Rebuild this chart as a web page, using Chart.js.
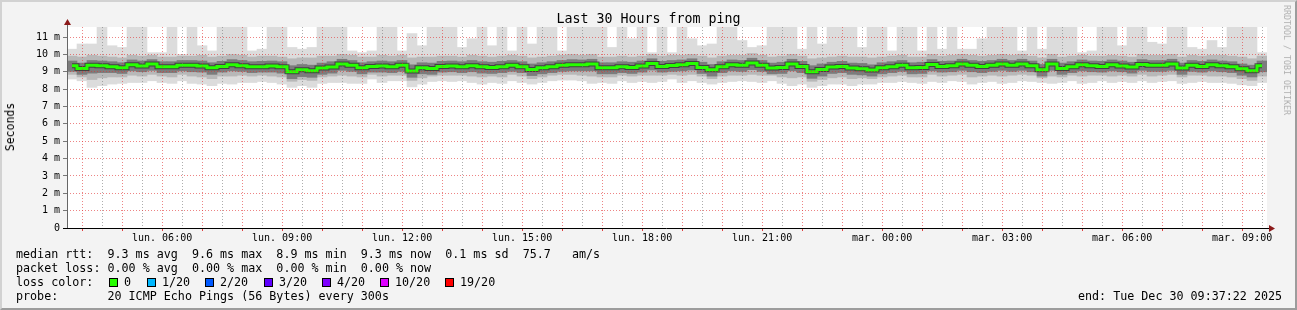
<!DOCTYPE html>
<html>
<head>
<meta charset="utf-8">
<title>Last 30 Hours from ping</title>
<script src="https://cdn.jsdelivr.net/npm/chart.js@4.4.1/dist/chart.umd.min.js"></script>
<style>
    html, body { margin: 0; padding: 0; background: #f3f3f3; }
    #wrap { position: relative; width: 1297px; height: 310px; overflow: hidden;
            font-family: "DejaVu Sans Mono", monospace; color: #000; }
    #wrap canvas { position: absolute; left: 0; top: 0; }
    .frame { position: absolute; left: 0; top: 0; width: 1297px; height: 310px; box-sizing: border-box;
             border-top: 2px solid #d2d2d2; border-left: 2px solid #d2d2d2;
             border-right: 2px solid #9c9c9c; border-bottom: 2px solid #9c9c9c; pointer-events: none; }
    .txt { position: absolute; white-space: pre; font-size: 11.7px; line-height: 14px; }
    .title { position: absolute; left: 0; top: 11px; width: 1297px; text-align: center;
             font-size: 13.3px; line-height: 16px; white-space: pre; }
    .ylab { position: absolute; left: 10px; top: 127px; font-size: 11.5px; white-space: pre;
            transform: translate(-50%, -50%) rotate(-90deg); }
    .brand { position: absolute; left: 1287px; top: 60px; font-size: 8.3px; color: #b0b0b0; white-space: pre;
             transform: translate(-50%, -50%) rotate(90deg); }
    .box { position: absolute; top: 278px; width: 7px; height: 7px; border: 1px solid #000; }
</style>
</head>
<body>
<div id="wrap">
    <canvas id="pingChart" width="1297" height="310"></canvas>
    <div class="title">Last 30 Hours from ping</div>
    <div class="ylab">Seconds</div>
    <div class="brand">RRDTOOL / TOBI OETIKER</div>
    <div id="legend"></div>
    <div class="frame"></div>
</div>
<script>
// 15 minute bins, start Mon 03:37:22, values in ms
const startClock = 3 + 37 / 60 + 22 / 3600;
const binHours = 0.25;

const median = [
    9.35, 9.19, 9.37, 9.35, 9.29, 9.23, 9.40, 9.33, 9.44, 9.29,
    9.29, 9.38, 9.37, 9.33, 9.23, 9.31, 9.40, 9.35, 9.29, 9.29,
    9.33, 9.29, 9.00, 9.12, 9.06, 9.21, 9.27, 9.44, 9.38, 9.23,
    9.30, 9.33, 9.29, 9.37, 9.04, 9.23, 9.19, 9.31, 9.33, 9.29,
    9.35, 9.29, 9.25, 9.29, 9.37, 9.29, 9.13, 9.23, 9.29, 9.37,
    9.40, 9.40, 9.44, 9.23, 9.23, 9.29, 9.25, 9.33, 9.48, 9.31,
    9.36, 9.40, 9.48, 9.25, 9.12, 9.29, 9.40, 9.37, 9.50, 9.38,
    9.21, 9.25, 9.44, 9.31, 9.00, 9.13, 9.27, 9.31, 9.21, 9.17,
    9.10, 9.23, 9.29, 9.37, 9.23, 9.25, 9.42, 9.31, 9.35, 9.44,
    9.38, 9.31, 9.38, 9.44, 9.38, 9.44, 9.35, 9.12, 9.44, 9.19,
    9.29, 9.40, 9.35, 9.31, 9.40, 9.33, 9.27, 9.42, 9.37, 9.37,
    9.44, 9.21, 9.37, 9.31, 9.40, 9.35, 9.29, 9.17, 9.06, 9.35
];

// slowest ping per bin (11.6 = off the top of the graph)
const maxPing = [
    10.3, 10.6, 10.6, 11.6, 10.5, 10.4, 11.6, 11.6, 10.1, 10.1,
    11.6, 10.0, 11.6, 10.5, 10.2, 11.6, 11.6, 11.6, 10.2, 10.3,
    11.6, 11.6, 10.4, 10.3, 10.4, 11.6, 11.6, 11.6, 10.2, 10.1,
    10.2, 11.6, 11.6, 10.2, 11.2, 10.5, 11.6, 11.6, 11.6, 10.4,
    10.9, 11.6, 10.5, 11.6, 10.2, 11.6, 10.6, 11.6, 11.6, 10.2,
    11.6, 11.6, 11.6, 11.6, 10.4, 11.6, 10.9, 11.6, 10.1, 11.6,
    10.1, 11.6, 10.9, 10.5, 10.6, 11.6, 11.6, 10.8, 10.4, 10.5,
    11.6, 11.6, 11.6, 10.3, 11.6, 10.6, 11.6, 11.6, 11.6, 10.4,
    11.6, 11.6, 10.2, 11.6, 11.6, 10.2, 11.6, 10.3, 11.6, 10.3,
    10.3, 10.9, 11.6, 11.6, 11.6, 10.2, 11.6, 10.3, 11.6, 11.6,
    11.6, 10.1, 10.2, 11.6, 11.6, 10.5, 11.6, 11.6, 10.7, 10.6,
    11.6, 11.6, 10.4, 10.3, 10.8, 10.4, 11.6, 11.6, 11.6, 10.1
];

// fastest ping per bin
const minPing = [
    8.58, 8.48, 8.10, 8.20, 8.29, 8.33, 8.38, 8.38, 8.48, 8.38,
    8.33, 8.48, 8.33, 8.29, 8.20, 8.33, 8.29, 8.38, 8.38, 8.44,
    8.38, 8.29, 8.10, 8.20, 8.10, 8.33, 8.38, 8.38, 8.33, 8.33,
    8.58, 8.38, 8.48, 8.48, 8.13, 8.29, 8.44, 8.48, 8.44, 8.48,
    8.38, 8.29, 8.38, 8.33, 8.48, 8.38, 8.29, 8.38, 8.48, 8.52,
    8.52, 8.48, 8.33, 8.38, 8.33, 8.48, 8.38, 8.44, 8.38, 8.44,
    8.58, 8.38, 8.48, 8.38, 8.29, 8.38, 8.44, 8.48, 8.44, 8.38,
    8.48, 8.33, 8.20, 8.29, 8.10, 8.20, 8.29, 8.29, 8.20, 8.29,
    8.29, 8.38, 8.38, 8.44, 8.38, 8.33, 8.44, 8.38, 8.48, 8.44,
    8.29, 8.38, 8.44, 8.33, 8.38, 8.48, 8.44, 8.38, 8.33, 8.38,
    8.48, 8.33, 8.38, 8.48, 8.38, 8.44, 8.38, 8.48, 8.38, 8.44,
    8.48, 8.33, 8.38, 8.44, 8.38, 8.38, 8.33, 8.25, 8.20, 8.38
];

// outer smoke (most pings)
const outerHigh = [
    9.90, 9.85, 9.95, 9.90, 9.85, 9.80, 9.95, 9.90, 9.95, 9.85,
    9.85, 9.90, 9.90, 9.95, 9.85, 9.90, 10.00, 9.95, 9.85, 9.90,
    9.90, 9.85, 9.75, 9.80, 9.80, 9.90, 9.90, 10.00, 9.95, 9.85,
    9.85, 9.95, 9.90, 9.95, 9.80, 9.85, 9.85, 9.90, 9.90, 9.85,
    9.95, 9.90, 9.85, 9.90, 9.95, 9.90, 9.80, 9.85, 9.90, 9.95,
    10.00, 9.95, 10.00, 9.85, 9.85, 9.90, 9.85, 9.90, 10.00, 9.90,
    9.95, 9.95, 10.00, 9.90, 9.80, 9.90, 9.95, 9.95, 10.05, 9.95,
    9.85, 9.90, 10.00, 9.90, 9.75, 9.80, 9.85, 9.90, 9.85, 9.85,
    9.80, 9.85, 9.90, 9.95, 9.85, 9.85, 10.00, 9.90, 9.95, 10.00,
    9.95, 9.90, 9.95, 10.00, 9.95, 10.00, 9.90, 9.80, 10.00, 9.85,
    9.90, 9.95, 9.90, 9.90, 9.95, 9.90, 9.85, 10.00, 9.95, 9.95,
    10.00, 9.85, 9.95, 9.90, 9.95, 9.95, 9.90, 9.85, 9.75, 9.90
];
const outerLow = [
    8.85, 8.70, 8.55, 8.65, 8.70, 8.70, 8.80, 8.75, 8.85, 8.75,
    8.70, 8.85, 8.75, 8.70, 8.60, 8.75, 8.75, 8.80, 8.75, 8.80,
    8.75, 8.70, 8.45, 8.55, 8.50, 8.70, 8.75, 8.80, 8.75, 8.70,
    8.85, 8.75, 8.80, 8.80, 8.50, 8.65, 8.75, 8.80, 8.80, 8.80,
    8.75, 8.70, 8.75, 8.70, 8.85, 8.75, 8.60, 8.70, 8.80, 8.85,
    8.85, 8.80, 8.75, 8.70, 8.70, 8.80, 8.75, 8.80, 8.80, 8.80,
    8.85, 8.80, 8.85, 8.75, 8.60, 8.75, 8.80, 8.80, 8.85, 8.80,
    8.80, 8.70, 8.65, 8.70, 8.45, 8.55, 8.65, 8.70, 8.60, 8.65,
    8.60, 8.70, 8.75, 8.80, 8.70, 8.70, 8.85, 8.75, 8.80, 8.85,
    8.70, 8.75, 8.80, 8.75, 8.80, 8.85, 8.80, 8.65, 8.75, 8.70,
    8.80, 8.75, 8.80, 8.80, 8.75, 8.80, 8.75, 8.85, 8.75, 8.80,
    8.85, 8.70, 8.80, 8.80, 8.75, 8.75, 8.70, 8.60, 8.50, 8.75
];

// inner smoke (pings nearest the median)
const innerHigh = [
    9.62, 9.50, 9.65, 9.62, 9.58, 9.52, 9.68, 9.62, 9.70, 9.58,
    9.58, 9.65, 9.65, 9.62, 9.52, 9.60, 9.70, 9.65, 9.58, 9.60,
    9.62, 9.58, 9.35, 9.42, 9.38, 9.50, 9.58, 9.72, 9.65, 9.52,
    9.58, 9.62, 9.58, 9.65, 9.40, 9.52, 9.50, 9.60, 9.62, 9.58,
    9.65, 9.58, 9.55, 9.60, 9.65, 9.58, 9.45, 9.52, 9.58, 9.65,
    9.70, 9.68, 9.72, 9.52, 9.52, 9.58, 9.55, 9.62, 9.75, 9.60,
    9.65, 9.68, 9.75, 9.55, 9.42, 9.58, 9.68, 9.65, 9.78, 9.65,
    9.50, 9.55, 9.72, 9.60, 9.35, 9.45, 9.55, 9.60, 9.50, 9.48,
    9.40, 9.52, 9.58, 9.65, 9.52, 9.55, 9.70, 9.60, 9.62, 9.72,
    9.65, 9.60, 9.65, 9.72, 9.65, 9.72, 9.62, 9.42, 9.72, 9.50,
    9.58, 9.68, 9.62, 9.60, 9.68, 9.62, 9.55, 9.70, 9.65, 9.65,
    9.72, 9.50, 9.65, 9.60, 9.68, 9.62, 9.58, 9.45, 9.38, 9.62
];
const innerLow = [
    9.02, 8.85, 8.92, 8.95, 8.95, 8.90, 9.05, 9.00, 9.08, 8.95,
    8.95, 9.05, 9.00, 8.98, 8.85, 8.98, 9.05, 9.02, 8.95, 8.98,
    8.98, 8.92, 8.60, 8.72, 8.68, 8.85, 8.92, 9.08, 9.02, 8.88,
    8.98, 8.98, 8.95, 9.02, 8.68, 8.88, 8.85, 8.98, 9.00, 8.95,
    9.00, 8.92, 8.90, 8.95, 9.02, 8.95, 8.78, 8.88, 8.95, 9.02,
    9.05, 9.05, 9.05, 8.88, 8.88, 8.95, 8.90, 8.98, 9.10, 8.98,
    9.02, 9.05, 9.10, 8.90, 8.75, 8.95, 9.05, 9.02, 9.12, 9.02,
    8.88, 8.90, 9.05, 8.95, 8.62, 8.75, 8.90, 8.95, 8.85, 8.82,
    8.75, 8.88, 8.95, 9.02, 8.88, 8.90, 9.05, 8.98, 9.00, 9.08,
    9.00, 8.95, 9.02, 9.08, 9.02, 9.08, 9.00, 8.75, 9.08, 8.85,
    8.95, 9.05, 9.00, 8.98, 9.05, 9.00, 8.92, 9.08, 9.02, 9.02,
    9.08, 8.85, 9.02, 8.98, 9.05, 9.00, 8.95, 8.80, 8.70, 9.00
];

const yLabels = ['0', '1 m', '2 m', '3 m', '4 m', '5 m', '6 m', '7 m', '8 m', '9 m', '10 m', '11 m'];
const xLabels = ['lun. 06:00', 'lun. 09:00', 'lun. 12:00', 'lun. 15:00', 'lun. 18:00',
                 'lun. 21:00', 'mar. 00:00', 'mar. 03:00', 'mar. 06:00', 'mar. 09:00'];

const lossColors = [
    { label: '0', color: '#26ff00', x: 109 },
    { label: '1/20', color: '#00b8ff', x: 147 },
    { label: '2/20', color: '#0059ff', x: 205 },
    { label: '3/20', color: '#5e00ff', x: 264 },
    { label: '4/20', color: '#7e00ff', x: 322 },
    { label: '10/20', color: '#dd00ff', x: 380 },
    { label: '19/20', color: '#ff0000', x: 445 }
];

const legendLines = [
    'median rtt:  9.3 ms avg  9.6 ms max  8.9 ms min  9.3 ms now  0.1 ms sd  75.7   am/s',
    'packet loss: 0.00 % avg  0.00 % max  0.00 % min  0.00 % now',
    'loss color:',
    'probe:       20 ICMP Echo Pings (56 Bytes) every 300s'
];

// ---- legend ----
const legend = document.getElementById('legend');
legendLines.forEach((line, i) => {
    const el = document.createElement('div');
    el.className = 'txt';
    el.style.left = '16px';
    el.style.top = (247 + i * 14) + 'px';
    el.textContent = line;
    legend.appendChild(el);
});
lossColors.forEach(item => {
    const box = document.createElement('div');
    box.className = 'box';
    box.style.left = item.x + 'px';
    box.style.background = item.color;
    legend.appendChild(box);
    const t = document.createElement('div');
    t.className = 'txt';
    t.style.left = (item.x + 15) + 'px';
    t.style.top = '275px';
    t.textContent = item.label;
    legend.appendChild(t);
});
const endEl = document.createElement('div');
endEl.className = 'txt';
endEl.style.left = '1078px';
endEl.style.top = '289px';
endEl.textContent = 'end: Tue Dec 30 09:37:22 2025';
legend.appendChild(endEl);

// ---- chart ----
const binX = i => (i + 0.5) * binHours;
const firstHalfHour = 4 - startClock;
const gridHours = [];
for (let h = firstHalfHour; h <= 30; h += 0.5) gridHours.push(h);
const firstLabel = 6 - startClock;
const yTicks = [];
for (let v = 0; v <= 11.5; v += 0.5) yTicks.push(v);

const majorGrid = 'rgba(225, 50, 50, 0.6)';
const minorGrid = 'rgba(120, 120, 120, 0.6)';
const mono = 'DejaVu Sans Mono';

const band = (lo, hi) => lo.map((v, i) => ({ x: binX(i), y: [v, hi[i]] }));
const line = arr => arr.map((v, i) => ({ x: binX(i), y: v }));

const frame = {
    id: 'frame',
    beforeDraw(chart) {
        const { ctx, chartArea: a } = chart;
        ctx.save();
        ctx.fillStyle = '#f3f3f3';
        ctx.fillRect(0, 0, chart.width, chart.height);
        ctx.fillStyle = '#ffffff';
        ctx.fillRect(a.left, a.top, a.right - a.left, a.bottom - a.top);
        ctx.restore();
    },
    afterDraw(chart) {
        const { ctx, chartArea: a } = chart;
        ctx.save();
        ctx.lineWidth = 1;
        ctx.strokeStyle = '#666666';
        ctx.beginPath();
        ctx.moveTo(a.left + 0.5, a.bottom);
        ctx.lineTo(a.left + 0.5, a.top - 5);
        ctx.stroke();
        ctx.strokeStyle = '#000000';
        ctx.beginPath();
        ctx.moveTo(a.left - 4, a.bottom + 0.5);
        ctx.lineTo(a.right + 3, a.bottom + 0.5);
        ctx.stroke();
        ctx.fillStyle = '#8b1a1a';
        ctx.beginPath();
        ctx.moveTo(a.left + 0.5, a.top - 8);
        ctx.lineTo(a.left - 3, a.top - 2);
        ctx.lineTo(a.left + 4, a.top - 2);
        ctx.closePath();
        ctx.fill();
        ctx.beginPath();
        ctx.moveTo(a.right + 8, a.bottom + 0.5);
        ctx.lineTo(a.right + 2, a.bottom - 3);
        ctx.lineTo(a.right + 2, a.bottom + 4);
        ctx.closePath();
        ctx.fill();
        ctx.restore();
    }
};

const barStyle = { type: 'bar', grouped: false, barPercentage: 1, categoryPercentage: 1, borderWidth: 0 };

new Chart(document.getElementById('pingChart').getContext('2d'), {
    type: 'bar',
    data: {
        datasets: [
            { ...barStyle, data: band(minPing, maxPing), backgroundColor: '#dcdcdc', order: 5 },
            { ...barStyle, data: band(outerLow, outerHigh), backgroundColor: '#b8b8b8', order: 4 },
            { ...barStyle, data: band(innerLow, innerHigh), backgroundColor: '#7c7c7c', order: 3 },
            { type: 'line', data: line(median), borderColor: 'rgba(40, 40, 40, 0.7)', borderWidth: 5,
              stepped: 'middle', pointRadius: 0, fill: false, order: 2 },
            { type: 'line', data: line(median), borderColor: '#26ff00', borderWidth: 3,
              stepped: 'middle', pointRadius: 0, fill: false, order: 1 }
        ]
    },
    options: {
        responsive: false,
        animation: false,
        events: [],
        layout: { padding: { left: 0, top: 27, right: 30, bottom: 62 } },
        plugins: { legend: { display: false }, tooltip: { enabled: false } },
        scales: {
            x: {
                type: 'linear', min: 0, max: 30, offset: false,
                grid: {
                    offset: false, z: 1, lineWidth: 1, tickLength: 3,
                    color: c => c.index % 2 === 0 ? majorGrid : minorGrid,
                    tickColor: c => c.index % 2 === 0 ? '#e04040' : 'rgba(0,0,0,0)'
                },
                border: { display: false, dash: [1, 2] },
                ticks: {
                    autoSkip: false, maxRotation: 0, padding: 1, color: '#000',
                    font: { family: mono, size: 10 },
                    callback: v => {
                        const k = Math.round((v - firstLabel) / 3);
                        return Math.abs(v - firstLabel - 3 * k) < 1e-6 && xLabels[k] ? xLabels[k] : '';
                    }
                },
                afterBuildTicks: s => { s.ticks = gridHours.map(v => ({ value: v })); },
                afterFit: s => { s.height = 20; }
            },
            y: {
                type: 'linear', min: 0, max: 201 / 17.36,
                grid: {
                    z: 1, lineWidth: 1, tickLength: 4,
                    color: c => c.index % 2 === 0 ? majorGrid : minorGrid,
                    tickColor: '#777777'
                },
                border: { display: false, dash: [1, 2] },
                ticks: {
                    padding: 3, color: '#000',
                    font: { family: mono, size: 10 },
                    callback: (v, i) => i % 2 === 0 ? yLabels[i / 2] : ''
                },
                afterBuildTicks: s => { s.ticks = yTicks.map(v => ({ value: v })); },
                afterFit: s => { s.width = 67; }
            }
        }
    },
    plugins: [frame]
});
</script>
</body>
</html>
